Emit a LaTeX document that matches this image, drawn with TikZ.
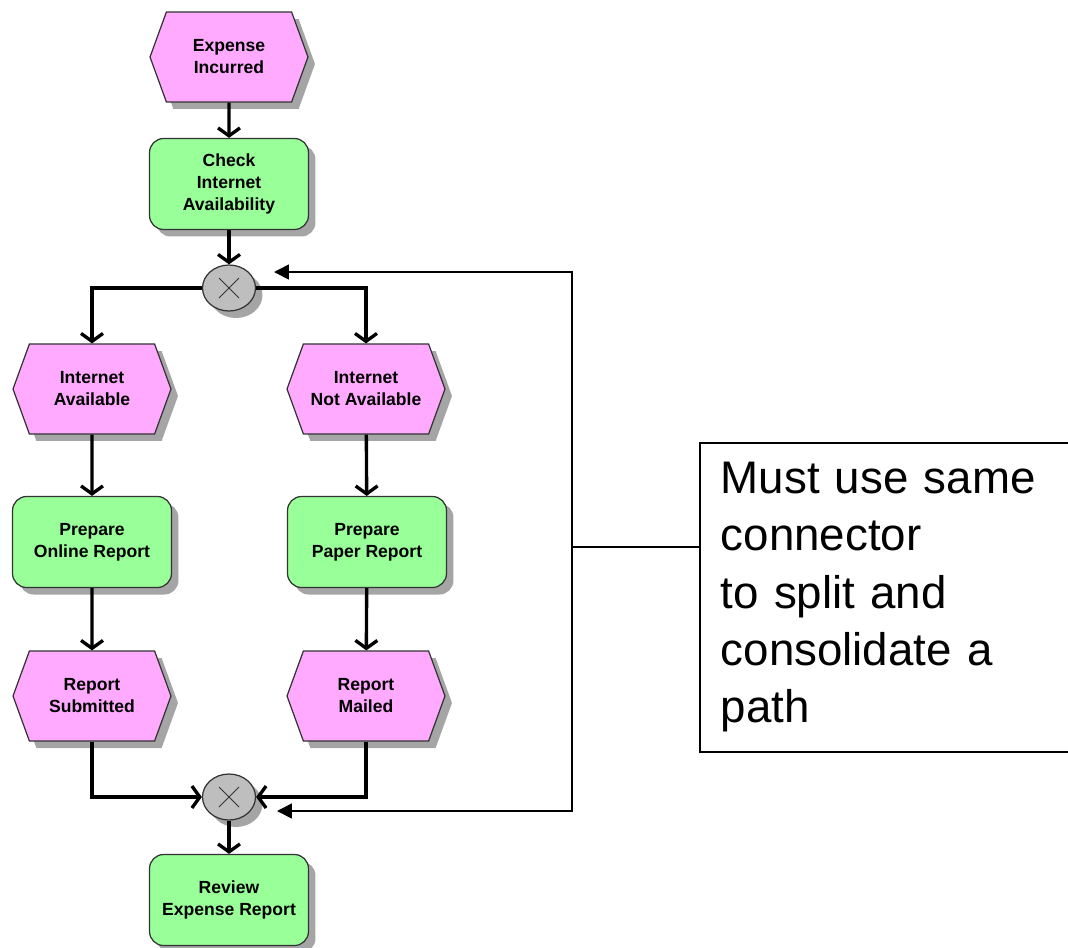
\documentclass[tikz,border=0pt]{standalone}
\usepackage{fontspec}
\setmainfont{Liberation Sans}
\usetikzlibrary{arrows.meta,shapes.symbols,shapes.geometric,shadows}

\definecolor{eventpink}{RGB}{255,170,255}
\definecolor{funcgreen}{RGB}{153,255,153}
\definecolor{xorgray}{RGB}{190,190,190}
\definecolor{shadowgray}{RGB}{165,165,165}

\begin{document}
\begin{tikzpicture}[x=0.02cm,y=-0.02cm,
  labelfont/.style={font=\bfseries\fontsize{10}{12.5}\selectfont, align=center},
  shadeunder/.style={drop shadow={shadow xshift=0.14cm,shadow yshift=-0.14cm,fill=shadowgray,opacity=1}},
  event/.style={signal, signal to=east and west, signal pointer angle=140, draw=black!80, line width=0.7pt,
    fill=eventpink, minimum width=3.16cm, minimum height=1.8cm, inner sep=0pt, labelfont, shadeunder},
  func/.style={rectangle, rounded corners=8pt, draw=black!80, line width=0.7pt, fill=funcgreen,
    minimum width=3.18cm, minimum height=1.82cm, inner sep=0pt, labelfont, shadeunder},
  xor/.style={ellipse, draw=black!80, line width=0.7pt, fill=xorgray, minimum width=1.06cm,
    minimum height=0.92cm, inner sep=0pt, shadeunder,
    path picture={
      \draw[line width=0.5pt] ([shift={(-0.2cm,-0.2cm)}]path picture bounding box.center) -- ([shift={(0.2cm,0.2cm)}]path picture bounding box.center);
      \draw[line width=0.5pt] ([shift={(-0.2cm,0.2cm)}]path picture bounding box.center) -- ([shift={(0.2cm,-0.2cm)}]path picture bounding box.center);
    }},
  flow/.style={line width=1.9pt, -{Straight Barb[length=4.5pt,width=12.5pt]}},
  loopback/.style={line width=0.9pt, -{Triangle[length=8.5pt,width=8.5pt]}},
  note/.style={draw, line width=0.9pt, font=\fontsize{26}{32.6}\selectfont, align=left,
    text width=8cm, inner xsep=0.42cm, minimum height=6.18cm}
]
\useasboundingbox (0,0) rectangle (1068,947);

\node[event] (ev1) at (229,57) {Expense\\Incurred};
\node[func] (fn1) at (229,184) {Check\\Internet\\Availability};
\node[xor] (xor1) at (229,288) {};
\node[event] (ev2) at (92,389) {Internet\\Available};
\node[event] (ev3) at (366,389) {Internet\\Not Available};
\node[func] (fn2) at (92,542) {Prepare\\Online Report};
\node[func] (fn3) at (367,542) {Prepare\\Paper Report};
\node[event] (ev4) at (92,696) {Report\\Submitted};
\node[event] (ev5) at (366,696) {Report\\Mailed};
\node[xor] (xor2) at (229,797) {};
\node[func] (fn4) at (229,900) {Review\\Expense Report};

\node[note, anchor=north west] (note) at (699,442) {Must use same\\connector\\to split and\\consolidate a\\path};

% flow
\draw[flow] (ev1) -- (fn1);
\draw[flow] (fn1) -- (xor1);
\draw[flow] (xor1.west) -| (ev2.north);
\draw[flow] (xor1.east) -| (ev3.north);
\draw[flow] (ev2) -- (fn2);
\draw[flow] (ev3) -- (fn3);
\draw[flow] (fn2) -- (ev4);
\draw[flow] (fn3) -- (ev5);
\draw[flow] (ev4.south) |- (xor2.west);
\draw[flow] (ev5.south) |- (xor2.east);
\draw[flow] (xor2) -- (fn4);

% note pointing at both connectors
\coordinate (fbMid) at (572,547);
\coordinate (fbTop) at (274,272);
\coordinate (fbBot) at (277,811);
\draw[line width=0.9pt] (note.west |- fbMid) -- (fbMid);
\draw[loopback] (fbMid) |- (fbTop);
\draw[loopback] (fbMid) |- (fbBot);
\end{tikzpicture}
\end{document}
